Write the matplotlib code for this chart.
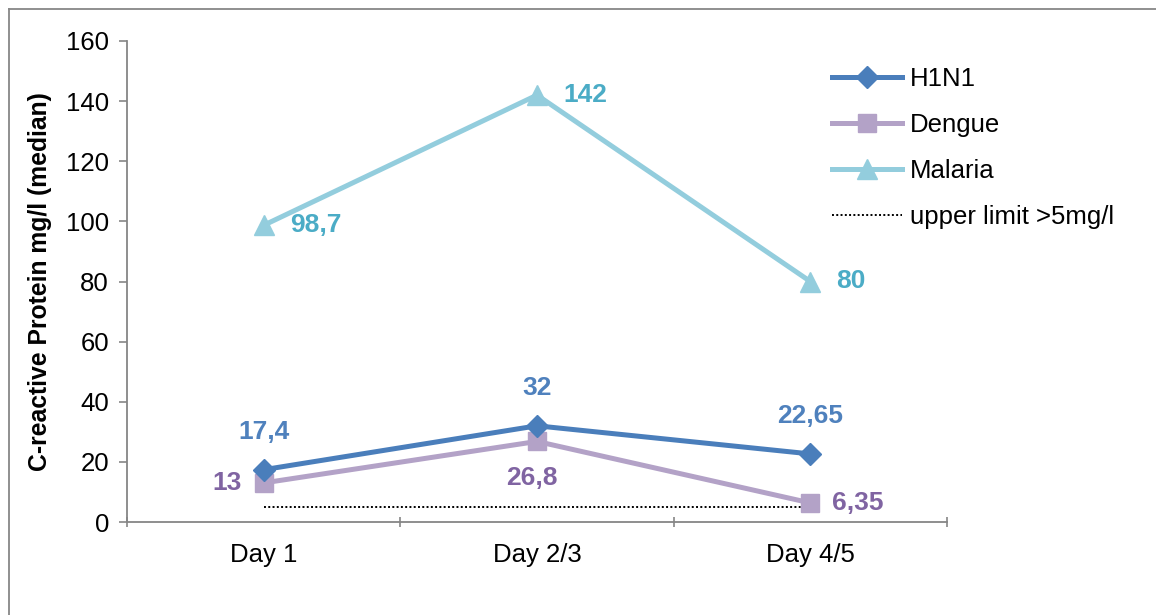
import matplotlib
matplotlib.use("Agg")
import matplotlib.pyplot as plt
from matplotlib.lines import Line2D

plt.rcParams['font.family'] = ['Liberation Sans', 'DejaVu Sans']

days = ["Day 1", "Day 2/3", "Day 4/5"]
h1n1 = [17.4, 32, 22.65]
dengue = [13, 26.8, 6.35]
malaria = [98.7, 142, 80]
upper_limit = 5
h1n1_labels = ["17,4", "32", "22,65"]
dengue_labels = ["13", "26,8", "6,35"]
malaria_labels = ["98,7", "142", "80"]
y_ticks = [0, 20, 40, 60, 80, 100, 120, 140, 160]

C_H1N1, C_H1N1_TXT = "#4A7EBB", "#4F81BD"
C_DEN, C_DEN_TXT = "#B3A2C7", "#8064A2"
C_MAL, C_MAL_TXT = "#93CDDD", "#4BACC6"
AXIS_GREY = "#868686"

W, H = 1156, 615
fig = plt.figure(figsize=(W / 100, H / 100), dpi=100)
ax = fig.add_axes([127 / W, 1 - 522 / H, (947 - 127) / W, (522 - 41) / H])

x = list(range(len(days)))
ax.plot(x, h1n1, color=C_H1N1, lw=3.6, marker="D", ms=11, label="H1N1", zorder=4)
ax.plot(x, dengue, color=C_DEN, lw=3.6, marker="s", ms=13, label="Dengue", zorder=3)
ax.plot(x, malaria, color=C_MAL, lw=3.6, marker="^", ms=14, label="Malaria", zorder=3)
ax.plot([x[0], x[-1]], [upper_limit, upper_limit], color="black", lw=1.4,
        ls=(0, (1, 1.2)), label="upper limit >5mg/l", zorder=2)

lab_kw = dict(textcoords="offset pixels", fontsize=19, fontweight="bold", va="center")
# H1N1 labels above the points
for xi, v, t in zip(x, h1n1, h1n1_labels):
    ax.annotate(t, (xi, v), xytext=(0, 38), ha="center", color=C_H1N1_TXT, **lab_kw)
# Dengue labels: left, below, right
ax.annotate(dengue_labels[0], (x[0], dengue[0]), xytext=(-22, 0), ha="right", color=C_DEN_TXT, **lab_kw)
ax.annotate(dengue_labels[1], (x[1], dengue[1]), xytext=(-5, -37), ha="center", color=C_DEN_TXT, **lab_kw)
ax.annotate(dengue_labels[2], (x[2], dengue[2]), xytext=(22, 0), ha="left", color=C_DEN_TXT, **lab_kw)
# Malaria labels to the right
for xi, v, t in zip(x, malaria, malaria_labels):
    ax.annotate(t, (xi, v), xytext=(26, 0), ha="left", color=C_MAL_TXT, **lab_kw)

ax.set_xlim(-0.5, len(days) - 0.5)
ax.set_ylim(0, 160)
ax.set_yticks(y_ticks)
ax.set_xticks([i - 0.5 for i in range(len(days) + 1)])
ax.set_xticklabels([])
ax.set_xticks(x, minor=True)
ax.set_xticklabels(days, minor=True)
ax.tick_params(axis="x", which="major", length=7, width=1.2, color=AXIS_GREY, direction="inout")
ax.tick_params(axis="x", which="minor", length=0, pad=15, labelsize=18.5)
ax.tick_params(axis="y", length=6, width=1.2, color=AXIS_GREY, labelsize=18.5, pad=7)

for s in ["top", "right"]:
    ax.spines[s].set_visible(False)
for s in ["left", "bottom"]:
    ax.spines[s].set_color(AXIS_GREY)
    ax.spines[s].set_linewidth(1.3)

ax.set_ylabel("C-reactive Protein mg/l (median)", fontsize=17.8, fontweight="bold", labelpad=10)

leg = ax.legend(loc="upper left", bbox_to_anchor=(809 / W, 1 - 44 / H),
                bbox_transform=fig.transFigure, frameon=False, fontsize=18.5,
                handlelength=2.72, handletextpad=0.3, labelspacing=0.86)

# Outer frame (left and top edges of the chart area)
fig.add_artist(Line2D([9 / W, 9 / W], [0, 1 - 9 / H], color="#878787", lw=1.3,
                      transform=fig.transFigure))
fig.add_artist(Line2D([9 / W, 1], [1 - 9 / H, 1 - 9 / H], color="#878787", lw=1.3,
                      transform=fig.transFigure))

fig.savefig("out.png", dpi=100)
